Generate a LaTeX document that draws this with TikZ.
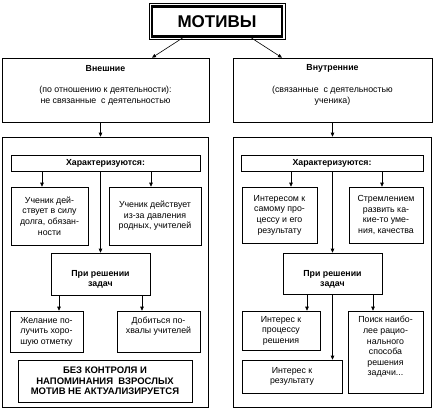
\documentclass[tikz,border=0pt]{standalone}
\usepackage{fontspec}
\setmainfont{Liberation Sans}
\usetikzlibrary{arrows.meta}

\begin{document}
\begin{tikzpicture}[x=1pt, y=-1pt,
    every node/.style={font=\fontsize{8.8}{10.6}\selectfont, align=center, inner sep=0pt},
    box/.style={draw, line width=0.6pt},
    boldtext/.style={font=\fontsize{8.8}{10.6}\selectfont\bfseries},
    arr/.style={-{Triangle[length=4pt,width=3.5pt]}, line width=0.6pt}]
    \useasboundingbox (0,0) rectangle (434,413);
    % Title
    \node[draw, line width=2.4pt, minimum width=130, minimum height=30,
          font=\fontsize{17}{20}\selectfont\bfseries] (motivy) at (217,21.5) {МОТИВЫ};
    \draw[line width=0.5pt] ([shift={(-1.8,-1.8)}]motivy.north west) rectangle ([shift={(1.8,1.8)}]motivy.south east);
    % Two kinds of motives
    \node[box, minimum width=207, minimum height=64] (ext) at (105.5,90) {};
    \node[boldtext] (extname) at (105.5,68.5) {Внешние};
    \node (exttext) at (105.5,95.5) {(по отношению к деятельности):\\не связанные\ \ с деятельностью};
    \node[box, minimum width=199, minimum height=64] (int) at (332.5,90) {};
    \node[boldtext] (intname) at (332.5,68.5) {Внутренние};
    \node (inttext) at (332.5,95.5) {(связанные\ \ с деятельностью\\ученика)};
    \draw[arr] ([xshift=-34]motivy.south) -- ([xshift=46.5]ext.north);
    \draw[arr] ([xshift=34]motivy.south) -- ([xshift=-50.5]int.north);
    % Left column
    \node[box, minimum width=206, minimum height=270] (lcont) at (105,272) {};
    \node[box, boldtext, minimum width=189, minimum height=16] (lbar) at (105.5,163) {Характеризуются:};
    \node[box, minimum width=77, minimum height=58] (lduty) at (49.5,216) {Ученик дей-\\ствует в силу\\долга, обязан-\\ности};
    \node[box, minimum width=92, minimum height=58] (lpress) at (155,216) {Ученик действует\\из-за давления\\родных, учителей};
    \node[box, minimum width=99, minimum height=42] (ltask) at (100.5,274) {};
    \node[boldtext] (ltasktext) at (100.5,279.5) {При решении\\задач};
    \node[box, minimum width=73, minimum height=41] (lmark) at (46.5,331.5) {Желание по-\\лучить хоро-\\шую отметку};
    \node[box, minimum width=83, minimum height=41] (lpraise) at (158.5,331.5) {};
    \node (lpraisetext) at (158.5,326) {Добиться по-\\хвалы учителей};
    \node[box, minimum width=174, minimum height=42, font=\fontsize{9.5}{10.5}\selectfont\bfseries] (lnote) at (105,381)
        {БЕЗ КОНТРОЛЯ И\\НАПОМИНАНИЯ\ \ ВЗРОСЛЫХ\\МОТИВ НЕ АКТУАЛИЗИРУЕТСЯ};
    \draw[arr] (ext.south -| ltask) -- (lcont.north -| ltask);
    \draw[arr] ([xshift=-7.5]lduty.north |- lbar.south) -- ([xshift=-7.5]lduty.north);
    \draw[arr] ([xshift=-4]lpress.north |- lbar.south) -- ([xshift=-4]lpress.north);
    \draw[arr] (lbar.south -| ltask) -- (ltask.north);
    \draw[arr] ([xshift=-41.5]ltask.south) -- ([xshift=-41.5]ltask.south |- lmark.north);
    \draw[arr] ([xshift=41.5]ltask.south) -- ([xshift=41.5]ltask.south |- lpraise.north);
    % Right column
    \node[box, minimum width=198, minimum height=270] (rcont) at (332,272) {};
    \node[box, boldtext, minimum width=182, minimum height=16] (rbar) at (332,163) {Характеризуются:};
    \node[box, minimum width=75, minimum height=56] (rproc) at (279.5,215) {Интересом к\\самому про-\\цессу и его\\результату};
    \node[box, minimum width=74, minimum height=56] (rskill) at (386,215) {Стремлением\\развить ка-\\кие-то уме-\\ния, качества};
    \node[box, minimum width=99, minimum height=41] (rtask) at (332.5,273.5) {};
    \node[boldtext] (rtasktext) at (332.5,279.5) {При решении\\задач};
    \node[box, minimum width=78, minimum height=39] (rsolve) at (281,330.5) {Интерес к\\процессу\\решения};
    \node[box, minimum width=100, minimum height=33] (rresult) at (292,376.5) {Интерес к\\результату};
    \node[box, minimum width=75, minimum height=82] (rsearch) at (385.5,352) {};
    \node (rsearchtext) at (385.5,347) {Поиск наибо-\\лее рацио-\\нального\\способа\\решения\\задачи...};
    \draw[arr] (int.south -| rtask) -- (rcont.north -| rtask);
    \draw[arr] ([xshift=11.5]rproc.north |- rbar.south) -- ([xshift=11.5]rproc.north);
    \draw[arr] ([xshift=-4]rskill.north |- rbar.south) -- ([xshift=-4]rskill.north);
    \draw[arr] (rbar.south -| rtask) -- (rtask.north);
    \draw[arr] ([xshift=-25.5]rtask.south) -- ([xshift=-25.5]rtask.south |- rsolve.north);
    \draw[arr] ([xshift=40.5]rtask.south) -- ([xshift=40.5]rtask.south |- rsearch.north);
    \draw[arr] (rtask.south) -- (rtask.south |- rresult.north);
\end{tikzpicture}
\end{document}
